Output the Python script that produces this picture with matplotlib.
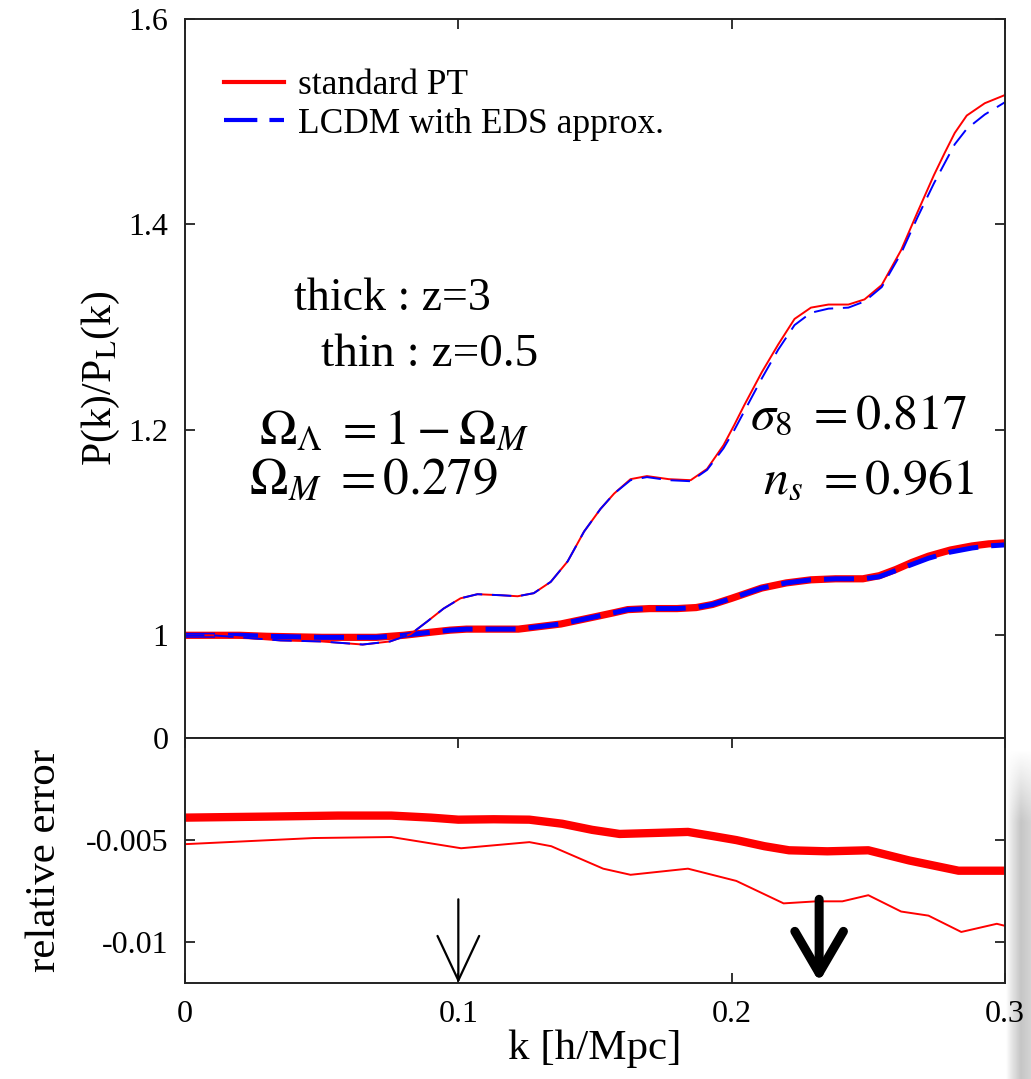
import numpy as np
import matplotlib
matplotlib.use("Agg")
import matplotlib.pyplot as plt
from matplotlib.lines import Line2D

plt.rcParams['font.family'] = 'serif'
plt.rcParams['font.serif'] = ['Liberation Serif', 'DejaVu Serif']
plt.rcParams['mathtext.fontset'] = 'stix'

# P(k)/P_L(k), thin curves: z=0.5
k_thin = [0, 0.01, 0.02, 0.035, 0.05, 0.065, 0.075, 0.0825, 0.0887, 0.0946, 0.1008,
          0.107, 0.1155, 0.1217, 0.1276, 0.1338, 0.140, 0.146, 0.152, 0.157, 0.163,
          0.169, 0.177, 0.185, 0.191, 0.197, 0.201, 0.2046, 0.211, 0.217, 0.223,
          0.229, 0.2354, 0.2427, 0.2486, 0.2549, 0.262, 0.268, 0.274, 0.278, 0.2816,
          0.286, 0.2926, 0.3]
spt_thin = [1.000, 1.000, 0.998, 0.995, 0.994, 0.991, 0.994, 1.001, 1.0136, 1.026, 1.036,
            1.040, 1.039, 1.038, 1.041, 1.052, 1.072, 1.101, 1.123, 1.138, 1.152,
            1.155, 1.152, 1.151, 1.162, 1.185, 1.205, 1.224, 1.256, 1.283, 1.308,
            1.319, 1.322, 1.322, 1.327, 1.341, 1.375, 1.412, 1.448, 1.470, 1.489,
            1.506, 1.518, 1.526]
eds_thin = [1.000, 1.000, 0.998, 0.995, 0.994, 0.991, 0.994, 1.001, 1.0136, 1.026, 1.036,
            1.040, 1.039, 1.038, 1.041, 1.052, 1.072, 1.101, 1.123, 1.138, 1.151,
            1.154, 1.151, 1.150, 1.161, 1.182, 1.200, 1.218, 1.250, 1.278, 1.302,
            1.314, 1.318, 1.319, 1.325, 1.339, 1.372, 1.407, 1.440, 1.460, 1.478,
            1.493, 1.507, 1.519]

# thick curves: z=3
k_thick = [0, 0.02, 0.03, 0.05, 0.07, 0.08, 0.09, 0.097, 0.103, 0.112, 0.122, 0.1375,
           0.15, 0.157, 0.162, 0.17, 0.18, 0.187, 0.193, 0.2, 0.211, 0.22, 0.229, 0.238,
           0.248, 0.254, 0.26, 0.266, 0.272, 0.28, 0.288, 0.294, 0.3]
spt_thick = [1.000, 1.000, 0.999, 0.998, 0.998, 1.000, 1.003, 1.005, 1.006, 1.006, 1.006,
             1.011, 1.018, 1.022, 1.025, 1.026, 1.026, 1.027, 1.030, 1.036, 1.046, 1.051,
             1.054, 1.055, 1.055, 1.058, 1.064, 1.071, 1.077, 1.083, 1.087, 1.089, 1.090]
eds_thick = [1.000, 1.000, 0.999, 0.998, 0.998, 1.000, 1.003, 1.005, 1.006, 1.006, 1.006,
             1.011, 1.018, 1.022, 1.025, 1.026, 1.026, 1.027, 1.030, 1.036, 1.046, 1.051,
             1.054, 1.055, 1.055, 1.057, 1.063, 1.069, 1.075, 1.081, 1.085, 1.087, 1.088]

# relative error
k_err3 = [0, 0.03, 0.056, 0.0755, 0.09, 0.1, 0.113, 0.126, 0.138, 0.149, 0.159, 0.172,
          0.184, 0.193, 0.2017, 0.212, 0.221, 0.235, 0.25, 0.265, 0.283, 0.3]
err3 = [-0.0039, -0.00385, -0.0038, -0.0038, -0.0039, -0.0040, -0.00398, -0.0040,
        -0.0042, -0.0045, -0.0047, -0.00465, -0.0046, -0.0048, -0.0050, -0.0053,
        -0.0055, -0.00555, -0.0055, -0.0060, -0.0065, -0.0065]
k_err05 = [0, 0.047, 0.0755, 0.101, 0.126, 0.134, 0.153, 0.163, 0.184, 0.2017, 0.219,
           0.231, 0.2405, 0.25, 0.262, 0.272, 0.284, 0.297, 0.3]
err05 = [-0.0052, -0.0049, -0.00485, -0.0054, -0.0051, -0.0053, -0.0064, -0.0067, -0.0064,
         -0.0070, -0.0081, -0.0080, -0.0080, -0.0077, -0.0085, -0.0087, -0.0095, -0.0091,
         -0.0092]

top_ticks = [0.9, 1.0, 1.2, 1.4, 1.6]
top_ticklabels = ['0', '1', '1.2', '1.4', '1.6']
bot_ticks = [-0.005, -0.01]
bot_ticklabels = ['-0.005', '-0.01']
k_ticks = [0, 0.1, 0.2, 0.3]
k_ticklabels = ['0', '0.1', '0.2', '0.3']
arrow_k = [0.1, 0.232]

W, H = 1031, 1079
fig = plt.figure(figsize=(W / 100, H / 100), dpi=100)
L, R = 185 / W, 1005 / W
ax1 = fig.add_axes([L, 1 - 738 / H, R - L, (738 - 19) / H])
ax2 = fig.add_axes([L, 1 - 983 / H, R - L, (983 - 738) / H])

red, blue = '#ff0000', '#0000ff'

ax1.plot(k_thick, spt_thick, color=red, lw=5.2, solid_joinstyle='round')
ax1.plot(k_thick, eds_thick, color=blue, lw=3.6, dashes=(6, 2.6))
ax1.plot(k_thin, spt_thin, color=red, lw=1.4, solid_joinstyle='round')
ax1.plot(k_thin, eds_thin, color=blue, lw=1.4, dashes=(10, 5))

ax2.plot(k_err3, err3, color=red, lw=6, solid_joinstyle='round')
ax2.plot(k_err05, err05, color=red, lw=1.4)

# arrows marking the k ranges
ax2.annotate('', xy=(arrow_k[0], -0.012), xytext=(arrow_k[0], -0.0079),
             arrowprops=dict(arrowstyle='->,head_length=3.2,head_width=1.5',
                             lw=1.6, color='black', shrinkA=0, shrinkB=0))
ax2.annotate('', xy=(arrow_k[1], -0.01195), xytext=(arrow_k[1], -0.0079),
             arrowprops=dict(arrowstyle='->,head_length=3.0,head_width=1.75',
                             lw=6.5, color='black', shrinkA=0, shrinkB=0))

for ax in (ax1, ax2):
    ax.set_xlim(0, 0.3)
    ax.set_xticks(k_ticks)
    for s in ax.spines.values():
        s.set_linewidth(1.4)
        s.set_color('#222222')
    ax.tick_params(direction='in', length=7, width=1.3, color='#222222',
                   labelsize=23, right=True, top=True, pad=12)

ax1.set_ylim(0.9, 1.6)
ax1.set_yticks(top_ticks)
ax1.set_yticklabels(top_ticklabels)
ax1.tick_params(axis='x', bottom=False, labelbottom=False)
ax2.set_ylim(-0.012, 0)
ax2.set_yticks(bot_ticks)
ax2.set_yticklabels(bot_ticklabels)
ax2.set_xticklabels(k_ticklabels)

ax1.set_ylabel('P(k)/P$_{\\rm L}$(k)', fontsize=30)
ax1.yaxis.set_label_coords(-0.077, 0.5)
ax2.set_ylabel('relative error', fontsize=31)
ax2.yaxis.set_label_coords(-0.148, 0.5)
ax2.set_xlabel('k [h/Mpc]', fontsize=31)
ax2.xaxis.set_label_coords(0.5, -0.19)

handles = [Line2D([], [], color=red, lw=3),
           Line2D([], [], color=blue, lw=3, dashes=(8, 2.9))]
ax1.legend(handles, ['standard PT', 'LCDM with EDS approx.'], loc='upper left',
           bbox_to_anchor=(0.047, 0.93), frameon=False, fontsize=25.5,
           handlelength=1.7, handletextpad=0.4, labelspacing=0.15,
           borderpad=0, borderaxespad=0)

ax1.text(0.076, 1.328, 'thick : z=3', fontsize=33, ha='center', va='center')
ax1.text(0.0895, 1.273, 'thin : z=0.5', fontsize=34, ha='center', va='center')
ax1.text(0.0765, 1.198, r'$\Omega_\Lambda\ = 1 - \Omega_M$', fontsize=36,
         ha='center', va='center')
ax1.text(0.069, 1.150, r'$\Omega_M\ = 0.279$', fontsize=37, ha='center', va='center')
ax1.text(0.2465, 1.213, r'$\sigma_8\ = 0.817$', fontsize=36, ha='center', va='center')
ax1.text(0.250, 1.150, r'$n_s\ = 0.961$', fontsize=36, ha='center', va='center')

# soft grey shadow along the lower right edge
sh = fig.add_axes([1006 / W, 0, 25 / W, 330 / H])
sh.set_zorder(-1)
xs = np.linspace(0, 1, 50)
prof = np.interp(xs, [0, 0.2, 0.6, 1], [0.0, 0.2, 0.5, 0.38])
ys = np.linspace(0, 1, 200)
fade = np.interp(ys, [0, 0.78, 0.92, 1], [1, 1, 0.35, 0])
img = np.ones((200, 50, 4))
img[..., :3] = 0.55
img[..., 3] = np.outer(fade, prof)
sh.imshow(img, aspect='auto', extent=(0, 1, 0, 1), origin='lower')
sh.axis('off')

fig.savefig('out.png', dpi=100)
